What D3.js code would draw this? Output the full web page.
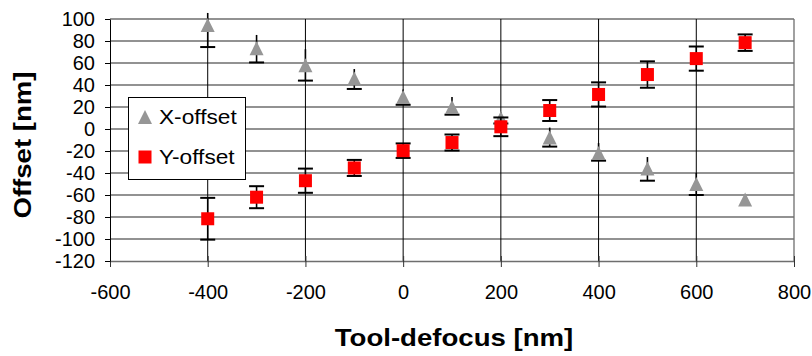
<!DOCTYPE html>
<html>
<head>
<meta charset="utf-8">
<script src="https://cdn.jsdelivr.net/npm/d3@7"></script>
<style>
  body { margin: 0; background: #fff; }
  svg text { font-family: "Liberation Sans", Arial, sans-serif; }
</style>
</head>
<body>
<div id="chart"></div>
<script>
var width = 812;
var height = 356;

// data
var defocus = [-400, -300, -200, -100, 0, 100, 200, 300, 400, 500, 600, 700];
var xOffset = [94.5, 73.5, 58, 46, 29, 20, 10, -7.7, -21.8, -36, -50, -64];
var xErrPlus = [11, 12, 14.5, 8.5, 7, 9, 5, 9, 9, 10.5, 10, 0];
var xErrMinus = [20, 13, 14, 9.6, 7, 7, 5, 8.3, 7, 11, 10, 0];
var yOffset = [-81.6, -62, -47, -35.4, -19.7, -12.3, 2, 16.8, 31.4, 49.5, 64, 78.5];
var yErr = [19, 10, 11, 7.3, 6.6, 7.3, 8.5, 9.5, 11, 12, 11, 7.5];

var xTicks = [-600, -400, -200, 0, 200, 400, 600, 800];
var yTicks = [-120, -100, -80, -60, -40, -20, 0, 20, 40, 60, 80, 100];
var seriesNames = ["X-offset", "Y-offset"];

// plot box (window.top is reserved, so pTop etc.)
var pLeft = 110, pRight = 794, pTop = 19, pBottom = 261;

var x = d3.scaleLinear().domain([-600, 800]).range([pLeft, pRight]);
var y = d3.scaleLinear().domain([-120, 100]).range([pBottom, pTop]);

var svg = d3.select("#chart").append("svg")
  .attr("width", width)
  .attr("height", height);

// horizontal grid
svg.append("g").selectAll("line")
  .data(yTicks.filter(d => d > -120))
  .join("line")
  .attr("x1", pLeft).attr("x2", pRight)
  .attr("y1", d => y(d)).attr("y2", d => y(d))
  .style("stroke", "#6e6e6e")
  .style("stroke-width", 1.3);

// vertical grid
svg.append("g").selectAll("line")
  .data(xTicks.filter(d => d > -600 && d < 800))
  .join("line")
  .attr("x1", d => x(d)).attr("x2", d => x(d))
  .attr("y1", pTop).attr("y2", pBottom)
  .style("stroke", "#000")
  .style("stroke-width", 1);

// right border
svg.append("line")
  .attr("x1", pRight).attr("x2", pRight)
  .attr("y1", pTop).attr("y2", pBottom)
  .style("stroke", "#6e6e6e")
  .style("stroke-width", 1.3);

// x axis
var xAxis = svg.append("g")
  .attr("transform", "translate(0," + pBottom + ")")
  .call(d3.axisBottom(x).tickValues(xTicks).tickFormat(d => String(d))
    .tickSizeOuter(0).tickSizeInner(6));
xAxis.select(".domain").style("stroke", "#6e6e6e").style("stroke-width", 1.3);
xAxis.selectAll(".tick line").attr("y1", -5).attr("y2", 6).style("stroke", "#333");
xAxis.selectAll(".tick text")
  .attr("y", 38).attr("dy", 0)
  .style("font-size", "20px").style("fill", "#000");

// y axis
var yAxis = svg.append("g")
  .attr("transform", "translate(" + pLeft + ",0)")
  .call(d3.axisLeft(y).tickValues(yTicks).tickFormat(d => String(d))
    .tickSizeOuter(0).tickSizeInner(5));
yAxis.select(".domain").style("stroke", "#000").style("stroke-width", 1);
yAxis.selectAll(".tick line").style("stroke", "#000");
yAxis.selectAll(".tick text")
  .attr("x", -15).attr("dy", "0.34em")
  .style("font-size", "20px").style("fill", "#000");

// axis titles (stretched a bit like the original)
svg.append("text")
  .attr("transform", "translate(454,346) scale(1.2,1)")
  .attr("text-anchor", "middle")
  .style("font-size", "23px").style("font-weight", "bold")
  .text("Tool-defocus [nm]");

svg.append("text")
  .attr("transform", "translate(31,145) rotate(-90) scale(1.2,1)")
  .attr("text-anchor", "middle")
  .style("font-size", "23px").style("font-weight", "bold")
  .text("Offset [nm]");

function triangle(cx, cy, s) {
  return "M" + cx + "," + (cy - s) + "L" + (cx + s) + "," + (cy + s) + "L" + (cx - s) + "," + (cy + s) + "Z";
}

var capW = 7.5;

// X-offset series: error bars (cap at lower end) then markers
var gx = svg.append("g");
defocus.forEach(function (d, i) {
  if (xErrPlus[i] === 0 && xErrMinus[i] === 0) return;
  gx.append("line")
    .attr("x1", x(d)).attr("x2", x(d))
    .attr("y1", y(xOffset[i] + xErrPlus[i])).attr("y2", y(xOffset[i] - xErrMinus[i]))
    .style("stroke", "#000").style("stroke-width", 1.6);
  gx.append("line")
    .attr("x1", x(d) - capW).attr("x2", x(d) + capW)
    .attr("y1", y(xOffset[i] - xErrMinus[i])).attr("y2", y(xOffset[i] - xErrMinus[i]))
    .style("stroke", "#000").style("stroke-width", 2);
});
gx.selectAll("path")
  .data(defocus)
  .join("path")
  .attr("d", (d, i) => triangle(x(d), y(xOffset[i]), 7))
  .style("fill", "#969696");

// Y-offset series
var gy = svg.append("g");
defocus.forEach(function (d, i) {
  var hi = y(yOffset[i] + yErr[i]), lo = y(yOffset[i] - yErr[i]);
  gy.append("line")
    .attr("x1", x(d)).attr("x2", x(d)).attr("y1", hi).attr("y2", lo)
    .style("stroke", "#000").style("stroke-width", 1.6);
  [hi, lo].forEach(function (yy) {
    gy.append("line")
      .attr("x1", x(d) - capW).attr("x2", x(d) + capW)
      .attr("y1", yy).attr("y2", yy)
      .style("stroke", "#000").style("stroke-width", 2);
  });
});
gy.selectAll("rect")
  .data(defocus)
  .join("rect")
  .attr("x", d => x(d) - 6.5)
  .attr("y", (d, i) => y(yOffset[i]) - 6.5)
  .attr("width", 13).attr("height", 13)
  .style("fill", "#ff0000");

// legend
var legend = svg.append("g");
legend.append("rect")
  .attr("x", 128.5).attr("y", 97.5)
  .attr("width", 117).attr("height", 82)
  .style("fill", "#fff").style("stroke", "#000").style("stroke-width", 1);
legend.append("path")
  .attr("d", triangle(145, 117, 7))
  .style("fill", "#969696");
legend.append("rect")
  .attr("x", 138.5).attr("y", 150.5).attr("width", 13).attr("height", 13)
  .style("fill", "#ff0000");
legend.selectAll("text")
  .data(seriesNames)
  .join("text")
  .attr("transform", (d, i) => "translate(159," + (i === 0 ? 123.5 : 163.5) + ") scale(1.08,1)")
  .style("font-size", "21px")
  .text(d => d);
</script>
</body>
</html>
